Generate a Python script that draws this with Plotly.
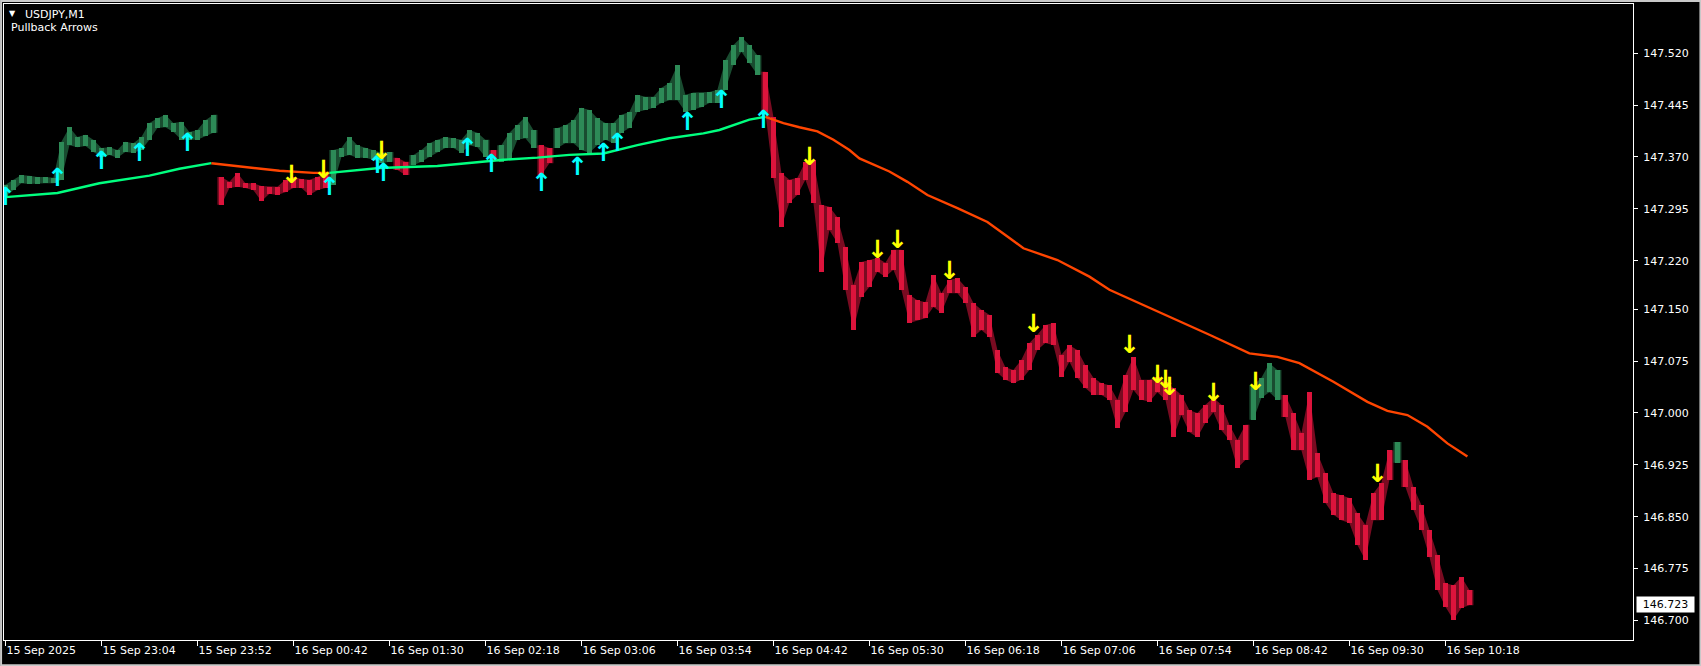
import plotly.graph_objects as go

# ---------------- data ----------------
# Price bars, sampled every 4 one-minute bars (bar index = 4*k)
HIGH = [147.330, 147.337, 147.344, 147.343, 147.341, 147.341, 147.340, 147.392, 147.413, 147.399,
        147.402, 147.395, 147.383, 147.384, 147.380, 147.392, 147.390, 147.399, 147.419, 147.426,
        147.431, 147.419, 147.421, 147.406, 147.409, 147.423, 147.431, 147.341, 147.334, 147.347,
        147.332, 147.332, 147.328, 147.327, 147.327, 147.337, 147.341, 147.338, 147.337, 147.341,
        147.347, 147.380, 147.383, 147.399, 147.387, 147.383, 147.380, 147.376, 147.377, 147.369,
        147.363, 147.373, 147.380, 147.390, 147.395, 147.399, 147.397, 147.395, 147.409, 147.405,
        147.395, 147.380, 147.387, 147.405, 147.416, 147.428, 147.409, 147.387, 147.383, 147.412,
        147.416, 147.423, 147.441, 147.438, 147.426, 147.419, 147.419, 147.431, 147.435, 147.460,
        147.457, 147.457, 147.470, 147.477, 147.503, 147.460, 147.463, 147.463, 147.464, 147.467,
        147.510, 147.532, 147.543, 147.532, 147.517, 147.493, 147.428, 147.347, 147.337, 147.340,
        147.363, 147.366, 147.301, 147.298, 147.283, 147.240, 147.185, 147.218, 147.221, 147.224,
        147.217, 147.236, 147.236, 147.171, 147.163, 147.160, 147.199, 147.173, 147.192, 147.195,
        147.182, 147.159, 147.149, 147.142, 147.091, 147.066, 147.062, 147.077, 147.101, 147.113,
        147.127, 147.130, 147.084, 147.098, 147.091, 147.069, 147.051, 147.043, 147.040, 147.019,
        147.055, 147.081, 147.048, 147.048, 147.052, 147.045, 147.036, 147.026, 147.004, 147.000,
        147.012, 147.022, 147.012, 146.983, 146.961, 146.983, 147.040, 147.051, 147.072, 147.062,
        147.026, 147.000, 146.971, 147.030, 146.942, 146.913, 146.884, 146.881, 146.877, 146.855,
        146.838, 146.884, 146.899, 146.946, 146.958, 146.932, 146.893, 146.867, 146.831, 146.795,
        146.754, 146.751, 146.763, 146.744]
LOW = [147.312, 147.322, 147.332, 147.331, 147.331, 147.332, 147.332, 147.337, 147.387, 147.384,
       147.386, 147.377, 147.370, 147.373, 147.369, 147.377, 147.376, 147.380, 147.395, 147.412,
       147.413, 147.406, 147.395, 147.395, 147.395, 147.400, 147.405, 147.301, 147.325, 147.327,
       147.325, 147.322, 147.306, 147.317, 147.315, 147.319, 147.325, 147.325, 147.315, 147.322,
       147.325, 147.330, 147.370, 147.373, 147.369, 147.369, 147.366, 147.361, 147.363, 147.351,
       147.344, 147.358, 147.363, 147.370, 147.377, 147.383, 147.383, 147.376, 147.387, 147.384,
       147.370, 147.366, 147.363, 147.366, 147.395, 147.397, 147.383, 147.344, 147.361, 147.383,
       147.390, 147.390, 147.380, 147.376, 147.387, 147.395, 147.390, 147.405, 147.412, 147.435,
       147.438, 147.441, 147.448, 147.452, 147.452, 147.435, 147.438, 147.442, 147.448, 147.448,
       147.467, 147.503, 147.522, 147.506, 147.489, 147.434, 147.340, 147.269, 147.304, 147.315,
       147.337, 147.304, 147.204, 147.264, 147.246, 147.178, 147.120, 147.168, 147.182, 147.204,
       147.197, 147.207, 147.178, 147.130, 147.134, 147.137, 147.153, 147.145, 147.173, 147.173,
       147.159, 147.110, 147.120, 147.110, 147.058, 147.048, 147.043, 147.048, 147.062, 147.091,
       147.101, 147.098, 147.052, 147.074, 147.051, 147.036, 147.026, 147.026, 147.019, 146.978,
       147.001, 147.033, 147.019, 147.016, 147.030, 147.019, 146.965, 146.997, 146.972, 146.965,
       146.986, 147.001, 146.975, 146.961, 146.920, 146.932, 146.990, 147.022, 147.030, 147.019,
       146.994, 146.946, 146.946, 146.903, 146.907, 146.870, 146.853, 146.845, 146.841, 146.809,
       146.787, 146.845, 146.845, 146.903, 146.928, 146.893, 146.860, 146.831, 146.792, 146.744,
       146.720, 146.701, 146.718, 146.722]
# indicator trend of the bars (run lengths in samples)
BAR_TREND_RUNS = [("up", 27), ("down", 14), ("up", 8), ("down", 2), ("up", 10), ("down", 1),
                  ("up", 5), ("down", 2), ("up", 26), ("down", 61), ("up", 4), ("down", 14),
                  ("up", 1), ("down", 9)]
SAMPLE_BARS = 4  # one-minute bars per sample

# Moving average (bar index, value)
MA_BAR = [0, 26, 47, 72, 87, 103, 121, 137, 154, 162, 187, 216, 237, 249, 266, 282, 299, 316, 332, 349,
          357, 364, 372, 380, 389, 397, 406, 414, 422, 427, 442, 451, 461, 476, 491, 501, 509, 526, 542,
          552, 586, 602, 622, 636, 647, 664, 681, 691, 701, 711, 721, 731]
MA_VAL = [147.312, 147.318, 147.332, 147.343, 147.353, 147.361, 147.355, 147.350, 147.347, 147.347,
          147.354, 147.357, 147.363, 147.366, 147.369, 147.373, 147.375, 147.387, 147.397, 147.404,
          147.409, 147.416, 147.424, 147.428, 147.419, 147.413, 147.407, 147.395, 147.380, 147.368,
          147.349, 147.334, 147.315, 147.296, 147.276, 147.255, 147.238, 147.221, 147.197, 147.178,
          147.134, 147.113, 147.086, 147.081, 147.072, 147.045, 147.016, 147.003, 146.997, 146.980,
          146.956, 146.937]
MA_TURN_BARS = [103, 162, 380]
MA_FIRST_TREND = "up"

# Pullback arrows
UP_BAR = [0, 26, 48, 67, 91, 162, 186, 189, 231, 243, 268, 286, 299, 306, 341, 358, 379]
UP_PRICE = [147.309, 147.337, 147.361, 147.373, 147.387, 147.324, 147.356, 147.344, 147.380, 147.357,
            147.330, 147.353, 147.373, 147.387, 147.418, 147.450, 147.421]
DOWN_BAR = [143, 159, 188, 402, 436, 446, 472, 514, 562, 576, 580, 582, 604, 625, 686]
DOWN_PRICE = [147.342, 147.349, 147.376, 147.368, 147.233, 147.248, 147.202, 147.126, 147.096,
              147.053, 147.045, 147.035, 147.026, 147.042, 146.909]

LAST_PRICE = 146.723

X_TICK_BARS = [0, 48, 96, 144, 192, 240, 288, 336, 384, 432, 480, 528, 576, 624, 672, 720]
X_TICK_TEXT = ["15 Sep 2025", "15 Sep 23:04", "15 Sep 23:52", "16 Sep 00:42", "16 Sep 01:30",
               "16 Sep 02:18", "16 Sep 03:06", "16 Sep 03:54", "16 Sep 04:42", "16 Sep 05:30",
               "16 Sep 06:18", "16 Sep 07:06", "16 Sep 07:54", "16 Sep 08:42", "16 Sep 09:30",
               "16 Sep 10:18"]
Y_TICKS = [147.520, 147.445, 147.370, 147.295, 147.220, 147.150, 147.075, 147.000, 146.925,
           146.850, 146.775, 146.700]
Y_TICK_TEXT = ["147.520", "147.445", "147.370", "147.295", "147.220", "147.150", "147.075",
               "147.000", "146.925", "146.850", "146.775", "146.700"]

# ---------------- styling ----------------
GREEN_BAR = "#2E8B57"
RED_BAR = "#DC143C"
GREEN_BAND = "rgba(46,139,87,0.55)"
RED_BAND = "rgba(220,20,60,0.55)"
MA_UP = "#00FF7F"
MA_DOWN = "#FF4500"
FONT = "DejaVu Sans"

trend = []
for d, n in BAR_TREND_RUNS:
    trend += [d] * n
xs = [SAMPLE_BARS * k for k in range(len(HIGH))]
colors = [GREEN_BAR if t == "up" else RED_BAR for t in trend]

fig = go.Figure()

# soft high/low band per trend run (gives the dense-bar texture)
half = SAMPLE_BARS / 2
start = 0
for direction, n in BAR_TREND_RUNS:
    ks = list(range(start, start + n))
    xc = [SAMPLE_BARS * k for k in ks]
    top_x = [xc[0] - half] + xc + [xc[-1] + half]
    top_y = [HIGH[ks[0]]] + [HIGH[k] for k in ks] + [HIGH[ks[-1]]]
    bot_y = ([LOW[ks[0]]] + [LOW[k] for k in ks] + [LOW[ks[-1]]])[::-1]
    band = GREEN_BAND if direction == "up" else RED_BAND
    fig.add_trace(go.Scatter(
        x=top_x + top_x[::-1], y=top_y + bot_y, mode="lines", fill="toself",
        fillcolor=band, line=dict(width=0), hoverinfo="skip"))
    start += n

# price bars (high-low range of each sample)
fig.add_trace(go.Bar(
    x=xs, y=[h - l for h, l in zip(HIGH, LOW)], base=LOW, width=2.2,
    marker=dict(color=colors, line=dict(width=0)), hoverinfo="skip"))

# moving average, coloured by its slope
bounds = [MA_BAR[0]] + MA_TURN_BARS + [MA_BAR[-1]]
cur = MA_FIRST_TREND
for s in range(len(bounds) - 1):
    pts = [(b, v) for b, v in zip(MA_BAR, MA_VAL) if bounds[s] <= b <= bounds[s + 1]]
    fig.add_trace(go.Scatter(
        x=[p[0] for p in pts], y=[p[1] for p in pts], mode="lines",
        line=dict(color=MA_UP if cur == "up" else MA_DOWN, width=2.4), hoverinfo="skip"))
    cur = "down" if cur == "up" else "up"

# pullback arrows
fig.add_trace(go.Scatter(
    x=UP_BAR, y=UP_PRICE, mode="text", text=["\u2191"] * len(UP_BAR),
    textposition="middle center",
    textfont=dict(color="#00FFFF", size=25, family=FONT, weight="bold"), hoverinfo="skip"))
fig.add_trace(go.Scatter(
    x=DOWN_BAR, y=DOWN_PRICE, mode="text", text=["\u2193"] * len(DOWN_BAR),
    textposition="middle center",
    textfont=dict(color="#FFFF00", size=25, family=FONT, weight="bold"), hoverinfo="skip"))

axis_common = dict(showgrid=False, zeroline=False, showline=True, mirror=True,
                   linecolor="white", linewidth=1, ticks="outside", tickcolor="white",
                   tickwidth=1, tickfont=dict(color="white", size=11, family=FONT))

fig.update_layout(
    width=1701, height=666,
    margin=dict(l=4, r=68, t=4, b=26, pad=0),
    paper_bgcolor="black", plot_bgcolor="black",
    showlegend=False, bargap=0,
    xaxis=dict(range=[-0.7, 813.8], tickvals=X_TICK_BARS, ticktext=X_TICK_TEXT, ticklen=5,
               ticklabelposition="outside right", **axis_common),
    yaxis=dict(range=[146.6718, 147.5911], side="right", tickvals=Y_TICKS, ticktext=Y_TICK_TEXT,
               ticklen=4, ticklabelstandoff=3, **axis_common),
    annotations=[
        dict(text="\u25BC", xref="paper", yref="paper", x=0.0052, y=0.9843,
             xanchor="center", yanchor="middle", showarrow=False,
             font=dict(color="white", size=8, family=FONT)),
        dict(text="USDJPY,M1", xref="paper", yref="paper", x=0.0117, y=0.9835,
             xanchor="left", yanchor="middle", showarrow=False,
             font=dict(color="white", size=11, family=FONT)),
        dict(text="Pullback Arrows", xref="paper", yref="paper", x=0.0031, y=0.9623,
             xanchor="left", yanchor="middle", showarrow=False,
             font=dict(color="white", size=11, family=FONT)),
        dict(text=f"{LAST_PRICE:.3f}", xref="paper", yref="y", x=1.0, y=LAST_PRICE,
             xanchor="left", yanchor="middle", xshift=3, showarrow=False,
             bgcolor="white", width=55, height=13, align="center",
             font=dict(color="black", size=11, family=FONT)),
    ],
    shapes=[
        dict(type="rect", xref="paper", yref="paper", x0=-0.0018, x1=1.0414, y0=-0.0396, y1=1.0049,
             line=dict(color="#c8c8c8", width=2), layer="above"),
    ],
)

fig.write_html("out.html", config={"displayModeBar": False},
               post_script="document.body.style.margin='0';document.body.style.background='black';")
